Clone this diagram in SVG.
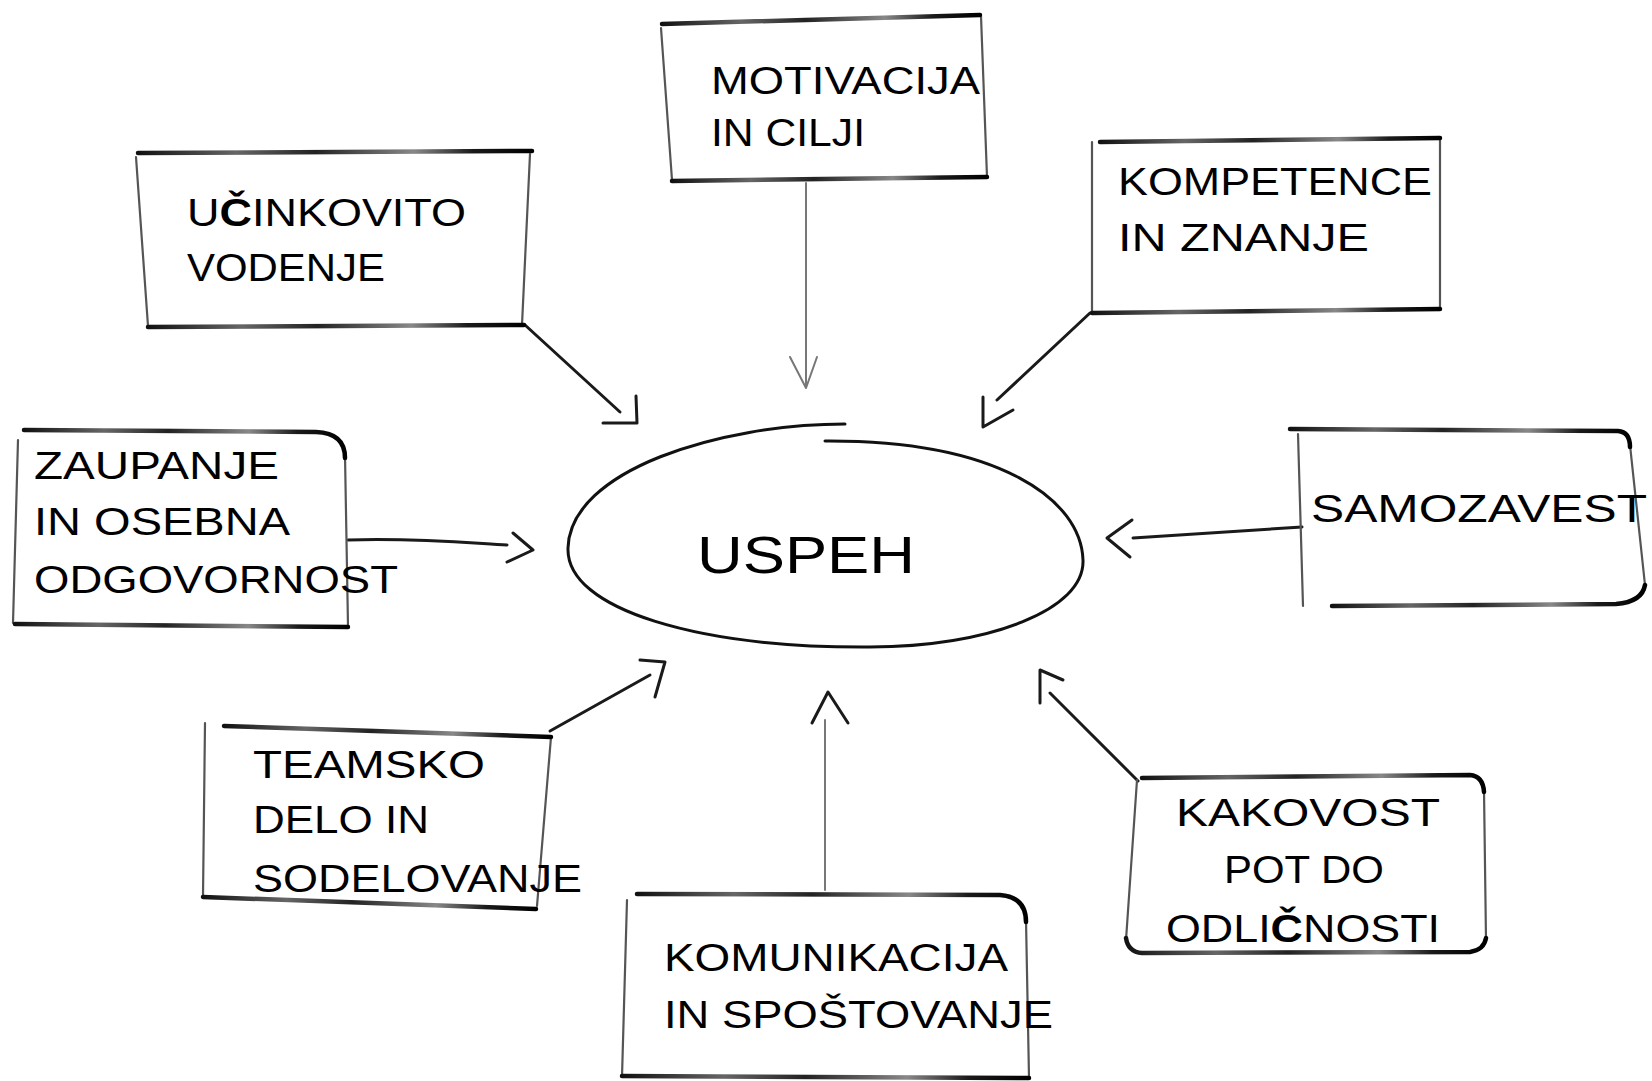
<svg xmlns="http://www.w3.org/2000/svg" width="1652" height="1081" viewBox="0 0 1652 1081">
  <defs>
    <linearGradient id="gh" x1="0" y1="0" x2="1" y2="0">
      <stop offset="0" stop-color="#111"/>
      <stop offset="0.25" stop-color="#666"/>
      <stop offset="0.45" stop-color="#222"/>
      <stop offset="0.7" stop-color="#888"/>
      <stop offset="0.85" stop-color="#1a1a1a"/>
      <stop offset="1" stop-color="#000"/>
    </linearGradient>
  </defs>
  <style>
    .hb { fill: none; stroke: url(#gh) #222; stroke-width: 4.5; stroke-linecap: round; stroke-linejoin: round; }
    .vs { fill: none; stroke: #555; stroke-width: 2.2; stroke-linecap: round; stroke-linejoin: round; }
    .lbl { font-family: "Liberation Sans", Arial, sans-serif; font-size: 38px; fill: #000; }
    .big { font-size: 52px; }
    .b { font-weight: bold; }
    .ell { fill: none; stroke: #111; stroke-width: 3; stroke-linecap: round; }
    .cn { fill: none; stroke: #1a1a1a; stroke-width: 3; stroke-linecap: round; stroke-linejoin: round; }
    .cg { fill: none; stroke: #777; stroke-width: 2; stroke-linecap: round; stroke-linejoin: round; }
  </style>
  <rect x="0" y="0" width="1652" height="1081" fill="#fff"/>

  <g id="connectors">
    <path class="cn" d="M 525,325 L 620,412"/>
    <path class="cn" d="M 603,423 L 637,423 L 636,396"/>
    <path class="cg" d="M 806,183 L 806,386"/>
    <path class="cg" d="M 790,357 L 806,388 L 817,357"/>
    <path class="cn" d="M 1090,313 L 997,400"/>
    <path class="cn" d="M 983,397 L 983,427 L 1013,410"/>
    <path class="cn" d="M 348,540 C 420,538 470,543 507,545"/>
    <path class="cn" d="M 513,533 L 533,550 L 507,562"/>
    <path class="cn" d="M 1302,527 L 1133,538"/>
    <path class="cn" d="M 1132,520 L 1107,538 L 1130,557"/>
    <path class="cn" d="M 550,731 L 650,675"/>
    <path class="cn" d="M 640,660 L 665,662 L 655,697"/>
    <path class="cg" d="M 825,890 L 825,720"/>
    <path class="cn" d="M 812,723 L 828,692 L 848,723"/>
    <path class="cn" d="M 1138,781 L 1050,693"/>
    <path class="cn" d="M 1040,703 L 1040,670 L 1063,680"/>
  </g>

  <g id="n-uspeh">
    <path class="ell" d="M 845,424 C 720,424 570,470 568,548 C 566,610 700,648 870,647 C 990,646 1085,610 1083,560 C 1081,500 1000,440 825,441"/>
    <text class="lbl big" x="697" y="573" textLength="218" lengthAdjust="spacingAndGlyphs">USPEH</text>
  </g>

  <g id="n-motivacija">
    <path class="vs" d="M 661,28 L 672,180 M 981,16 L 987,177"/>
    <path class="hb" d="M 662,24 L 980,15"/>
    <path class="hb" d="M 672,181 L 987,177"/>
    <text class="lbl" x="711" y="94" textLength="269" lengthAdjust="spacingAndGlyphs">MOTIVACIJA</text>
    <text class="lbl" x="711" y="146" textLength="154" lengthAdjust="spacingAndGlyphs">IN CILJI</text>
  </g>

  <g id="n-ucinkovito">
    <path class="vs" d="M 136,157 L 148,326 M 530,154 L 522,325"/>
    <path class="hb" d="M 138,153 L 532,151"/>
    <path class="hb" d="M 148,327 L 524,325"/>
    <text class="lbl" x="187" y="226" textLength="279" lengthAdjust="spacingAndGlyphs">U<tspan class="b">Č</tspan>INKOVITO</text>
    <text class="lbl" x="187" y="281" textLength="198" lengthAdjust="spacingAndGlyphs">VODENJE</text>
  </g>

  <g id="n-kompetence">
    <path class="vs" d="M 1092,142 L 1092,313 M 1440,138 L 1440,309"/>
    <path class="hb" d="M 1100,142 L 1440,138"/>
    <path class="hb" d="M 1092,313 L 1440,309"/>
    <text class="lbl" x="1118" y="195" textLength="314" lengthAdjust="spacingAndGlyphs">KOMPETENCE</text>
    <text class="lbl" x="1118" y="251" textLength="251" lengthAdjust="spacingAndGlyphs">IN ZNANJE</text>
  </g>

  <g id="n-zaupanje">
    <path class="vs" d="M 18,440 L 13,623 M 345,455 L 348,626"/>
    <path class="hb" d="M 24,430 L 316,432 Q 345,433 345,458"/>
    <path class="hb" d="M 15,624 L 348,627"/>
    <text class="lbl" x="34" y="479" textLength="245" lengthAdjust="spacingAndGlyphs">ZAUPANJE</text>
    <text class="lbl" x="34" y="535" textLength="256" lengthAdjust="spacingAndGlyphs">IN OSEBNA</text>
    <text class="lbl" x="34" y="593" textLength="364" lengthAdjust="spacingAndGlyphs">ODGOVORNOST</text>
  </g>

  <g id="n-samozavest">
    <path class="vs" d="M 1298,434 L 1303,606 M 1630,445 L 1645,585"/>
    <path class="hb" d="M 1290,429 L 1618,431 Q 1630,432 1630,447"/>
    <path class="hb" d="M 1332,606 L 1616,604 Q 1642,602 1645,585"/>
    <text class="lbl" x="1311" y="522" textLength="336" lengthAdjust="spacingAndGlyphs">SAMOZAVEST</text>
  </g>

  <g id="n-teamsko">
    <path class="vs" d="M 205,723 L 203,897 M 551,737 L 537,906"/>
    <path class="hb" d="M 224,726 L 551,737"/>
    <path class="hb" d="M 203,897 L 536,909"/>
    <text class="lbl" x="253" y="778" textLength="232" lengthAdjust="spacingAndGlyphs">TEAMSKO</text>
    <text class="lbl" x="253" y="833" textLength="176" lengthAdjust="spacingAndGlyphs">DELO IN</text>
    <text class="lbl" x="253" y="892" textLength="329" lengthAdjust="spacingAndGlyphs">SODELOVANJE</text>
  </g>

  <g id="n-komunikacija">
    <path class="vs" d="M 627,900 L 622,1077 M 1026,920 L 1029,1077"/>
    <path class="hb" d="M 637,894 L 1000,895 Q 1026,897 1026,922"/>
    <path class="hb" d="M 622,1076 L 1029,1078"/>
    <text class="lbl" x="664" y="971" textLength="344" lengthAdjust="spacingAndGlyphs">KOMUNIKACIJA</text>
    <text class="lbl" x="664" y="1028" textLength="389" lengthAdjust="spacingAndGlyphs">IN SPOŠTOVANJE</text>
  </g>

  <g id="n-kakovost">
    <path class="vs" d="M 1137,780 L 1126,940 M 1484,790 L 1486,940"/>
    <path class="hb" d="M 1142,778 L 1470,775 Q 1483,776 1484,792"/>
    <path class="hb" d="M 1126,938 Q 1128,952 1142,953 L 1470,952 Q 1484,950 1486,938"/>
    <text class="lbl" x="1176" y="826" textLength="264" lengthAdjust="spacingAndGlyphs">KAKOVOST</text>
    <text class="lbl" x="1224" y="883" textLength="160" lengthAdjust="spacingAndGlyphs">POT DO</text>
    <text class="lbl" x="1166" y="942" textLength="274" lengthAdjust="spacingAndGlyphs">ODLI<tspan class="b">Č</tspan>NOSTI</text>
  </g>
</svg>
